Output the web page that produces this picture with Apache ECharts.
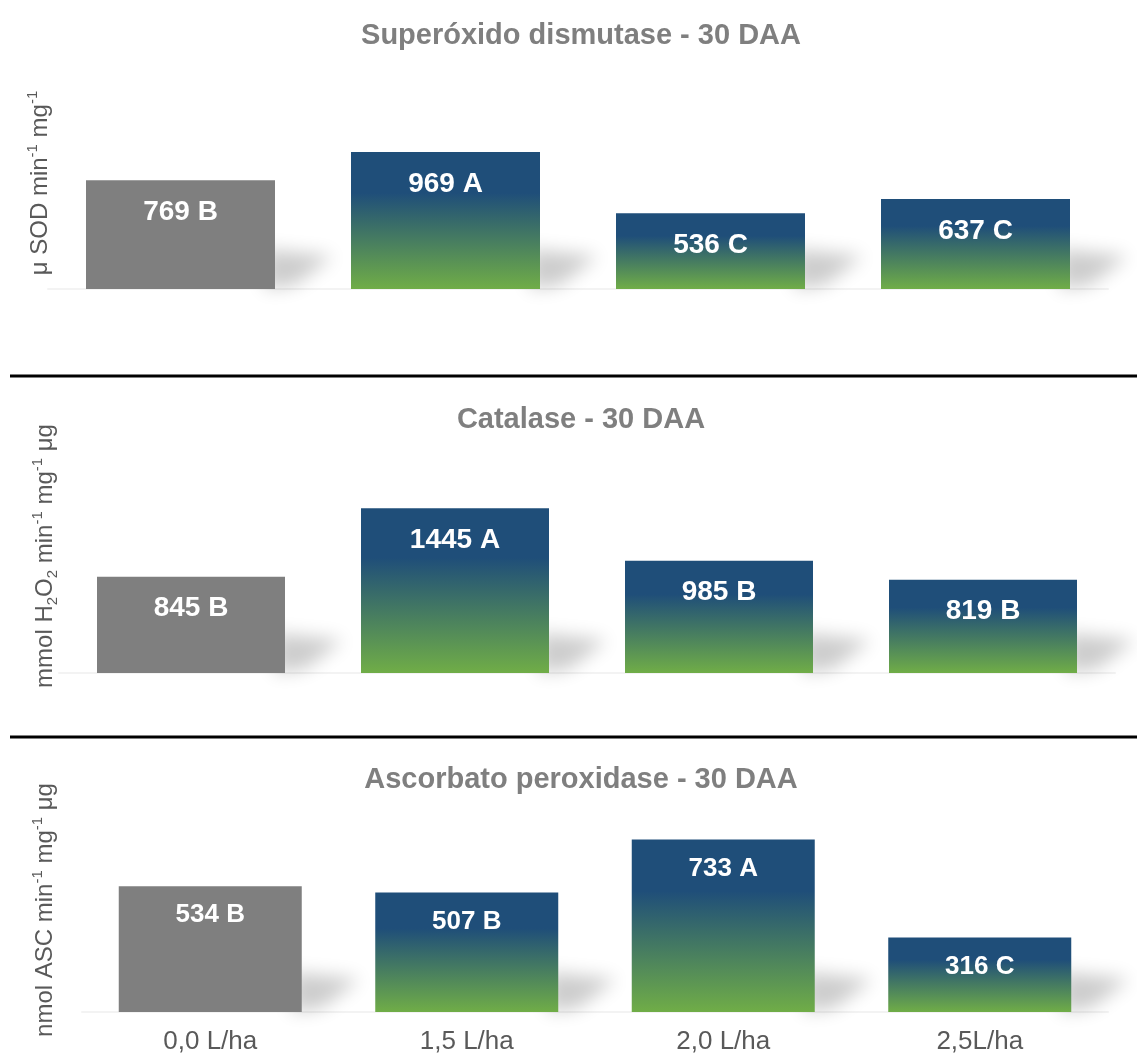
<!DOCTYPE html>
<html>
<head>
<meta charset="utf-8">
<title>Enzimas antioxidantes - 30 DAA</title>
<script src="https://cdn.jsdelivr.net/npm/echarts@6/dist/echarts.min.js"></script>
<style>
  html, body { margin: 0; padding: 0; background: #ffffff; }
  #chart { width: 1137px; height: 1056px; }
</style>
</head>
<body>
<div id="chart"></div>
<script>
// Doses (x categories)
const doses = ['0,0 L/ha', '1,5 L/ha', '2,0 L/ha', '2,5L/ha'];

// Superóxido dismutase
const sodValues = [769, 969, 536, 637];
const sodLetters = ['B', 'A', 'C', 'C'];

// Catalase
const catValues = [845, 1445, 985, 819];
const catLetters = ['B', 'A', 'B', 'B'];

// Ascorbato peroxidase
const apxValues = [534, 507, 733, 316];
const apxLetters = ['B', 'B', 'A', 'C'];

const FONT = 'Arial, "Liberation Sans", Helvetica, sans-serif';
const GREY_BAR = '#7f7f7f';
const TITLE_COLOR = '#7f7f7f';
const AXIS_TEXT = '#595959';

const gradientFill = new echarts.graphic.LinearGradient(0, 0, 0, 1, [
  { offset: 0, color: '#1f4e79' },
  { offset: 0.3, color: '#1f4e79' },
  { offset: 1, color: '#70ad47' }
]);

function barData(values) {
  return values.map((v, i) => ({
    value: v,
    itemStyle: { color: i === 0 ? GREY_BAR : gradientFill }
  }));
}

// soft perspective shadow behind the bottom-right corner of each bar
function shadowRenderer(barWidth) {
  return function (params, api) {
    const base = api.coord([api.value(0), 0]);
    const x1 = base[0] + barWidth / 2;
    const b = base[1];
    const off = 4000;
    const pts = [
      [x1 - 10, b],
      [x1 - 10, b - 40],
      [x1 + 58, b - 33],
      [x1 + 20, b - 4]
    ].map(p => [p[0] - off, p[1]]);
    return {
      type: 'polygon',
      silent: true,
      shape: { points: pts },
      style: {
        fill: 'rgba(0,0,0,0.2)',
        shadowBlur: 18,
        shadowColor: 'rgba(0,0,0,1)',
        shadowOffsetX: off,
        shadowOffsetY: 0
      }
    };
  };
}

const panels = [
  { values: sodValues, letters: sodLetters, max: 1400, barWidth: 189, labelSize: 28, labelDist: 18,
    grid: { left: 48, top: 91, width: 1060, height: 198 }, showX: false },
  { values: catValues, letters: catLetters, max: 2000, barWidth: 188, labelSize: 28, labelDist: 18,
    grid: { left: 59, top: 445, width: 1056, height: 228 }, showX: false },
  { values: apxValues, letters: apxLetters, max: 1000, barWidth: 183, labelSize: 26, labelDist: 16,
    grid: { left: 82, top: 776.5, width: 1026, height: 235.5 }, showX: true }
];

const grids = [], xAxes = [], yAxes = [], series = [];
panels.forEach((p, k) => {
  grids.push(p.grid);
  xAxes.push({
    type: 'category',
    gridIndex: k,
    data: doses,
    axisLine: { show: true, lineStyle: { color: '#f3f3f3', width: 2 } },
    axisTick: { show: false },
    axisLabel: {
      show: p.showX,
      color: AXIS_TEXT,
      fontFamily: FONT,
      fontSize: 26,
      margin: 17
    }
  });
  yAxes.push({
    type: 'value',
    gridIndex: k,
    min: 0,
    max: p.max,
    show: false,
    splitLine: { show: false }
  });
  series.push({
    type: 'custom',
    xAxisIndex: k,
    yAxisIndex: k,
    z: 1,
    silent: true,
    clip: false,
    data: p.values.map((v, i) => [i, v]),
    renderItem: shadowRenderer(p.barWidth)
  });
  series.push({
    type: 'bar',
    xAxisIndex: k,
    yAxisIndex: k,
    z: 2,
    barWidth: p.barWidth,
    data: barData(p.values),
    label: {
      show: true,
      position: 'insideTop',
      distance: p.labelDist,
      color: '#ffffff',
      fontFamily: FONT,
      fontWeight: 'bold',
      fontSize: p.labelSize,
      formatter: (params) => params.value + ' ' + p.letters[params.dataIndex]
    }
  });
});

const titleStyle = { color: TITLE_COLOR, fontFamily: FONT, fontWeight: 'bold', fontSize: 29 };

const nameRich = {
  sup: { fontSize: 15, lineHeight: 15, verticalAlign: 'top', fill: AXIS_TEXT, fontFamily: FONT },
  sub: { fontSize: 15, lineHeight: 15, verticalAlign: 'bottom', fill: AXIS_TEXT, fontFamily: FONT }
};

function axisName(x, y, text) {
  return {
    type: 'text',
    x: x,
    y: y,
    rotation: Math.PI / 2,
    silent: true,
    style: {
      text: text,
      fill: AXIS_TEXT,
      font: '24px ' + FONT,
      lineHeight: 30,
      align: 'center',
      verticalAlign: 'middle',
      rich: nameRich
    }
  };
}

const option = {
  backgroundColor: '#ffffff',
  animation: false,
  title: [
    { text: 'Superóxido dismutase - 30 DAA', left: 576, top: 16, textAlign: 'center', textStyle: titleStyle },
    { text: 'Catalase - 30 DAA', left: 576, top: 400, textAlign: 'center', textStyle: titleStyle },
    { text: 'Ascorbato peroxidase - 30 DAA', left: 576, top: 760, textAlign: 'center', textStyle: titleStyle }
  ],
  grid: grids,
  xAxis: xAxes,
  yAxis: yAxes,
  series: series,
  graphic: [
    { type: 'line', silent: true, shape: { x1: 10, y1: 376, x2: 1137, y2: 376 }, style: { stroke: '#000000', lineWidth: 3 } },
    { type: 'line', silent: true, shape: { x1: 10, y1: 737, x2: 1137, y2: 737 }, style: { stroke: '#000000', lineWidth: 3 } },
    axisName(40, 183, 'μ SOD min{sup|-1} mg{sup|-1}'),
    axisName(45, 556, 'mmol H{sub|2}O{sub|2} min{sup|-1} mg{sup|-1} μg'),
    axisName(45, 910, 'nmol ASC min{sup|-1} mg{sup|-1} μg')
  ]
};

const chart = echarts.init(document.getElementById('chart'), null, { renderer: 'canvas' });
chart.setOption(option);
</script>
</body>
</html>
